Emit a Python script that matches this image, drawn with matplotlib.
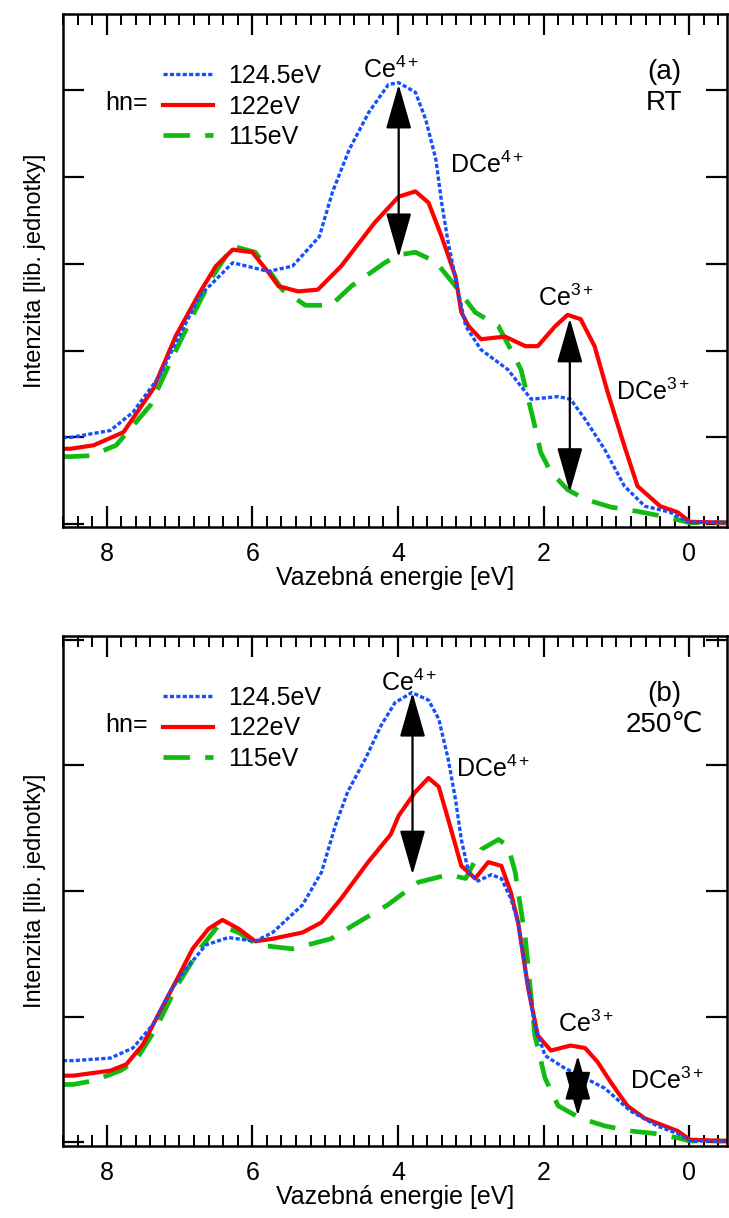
import matplotlib
matplotlib.use("Agg")
import matplotlib.pyplot as plt
from matplotlib.ticker import MultipleLocator

plt.rcParams['font.family'] = ['Liberation Sans', 'DejaVu Sans']
plt.rcParams['mathtext.fontset'] = 'custom'
plt.rcParams['mathtext.rm'] = 'Liberation Sans'
plt.rcParams['mathtext.it'] = 'Liberation Sans'
plt.rcParams['lines.scale_dashes'] = False

# ---- panel (a) RT ----
e_a_blue = [8.60, 8.50, 7.95, 7.64, 7.27, 7.05, 6.72, 6.27, 5.78, 5.45, 5.36, 5.08, 4.90, 4.67, 4.40,
            4.13, 3.99, 3.76, 3.62, 3.48, 3.40, 3.31, 3.17, 3.07, 2.86, 2.49, 2.17, 1.80, 1.63, 1.43,
            1.16, 0.89, 0.61, 0.26, 0.03, -0.52]
i_a_blue = [1.00, 1.00, 1.08, 1.29, 1.71, 2.09, 2.63, 3.01, 2.91, 2.97, 3.05, 3.31, 3.82, 4.31, 4.74,
            5.06, 5.08, 4.97, 4.66, 4.20, 3.70, 3.24, 2.67, 2.28, 2.01, 1.78, 1.44, 1.47, 1.44, 1.21,
            0.86, 0.44, 0.21, 0.14, 0.03, 0.02]
e_a_red = [8.60, 8.50, 8.18, 7.77, 7.36, 7.05, 6.72, 6.50, 6.27, 6.00, 5.78, 5.64, 5.37, 5.10, 4.78,
           4.32, 3.99, 3.76, 3.58, 3.40, 3.21, 3.13, 3.03, 2.86, 2.53, 2.25, 2.08, 1.84, 1.67, 1.49,
           1.30, 1.12, 0.89, 0.71, 0.40, 0.16, -0.01, -0.52]
i_a_red = [0.87, 0.87, 0.91, 1.06, 1.56, 2.17, 2.67, 2.97, 3.16, 3.13, 2.90, 2.74, 2.68, 2.70, 2.97,
           3.47, 3.77, 3.83, 3.70, 3.31, 2.85, 2.44, 2.28, 2.13, 2.16, 2.05, 2.05, 2.28, 2.41, 2.36,
           2.05, 1.52, 0.90, 0.44, 0.21, 0.14, 0.03, 0.02]
e_a_green = [8.60, 8.50, 8.22, 7.87, 7.40, 7.13, 6.82, 6.54, 6.27, 5.96, 5.72, 5.59, 5.27, 4.92, 4.64,
             4.18, 3.99, 3.76, 3.48, 3.21, 2.94, 2.62, 2.45, 2.31, 2.21, 2.12, 2.04, 1.90, 1.67, 1.43,
             1.08, 0.71, 0.34, -0.01, -0.52]
i_a_green = [0.78, 0.78, 0.79, 0.91, 1.37, 1.86, 2.40, 2.86, 3.20, 3.13, 2.86, 2.70, 2.52, 2.52, 2.74,
             3.01, 3.10, 3.13, 3.02, 2.74, 2.44, 2.28, 2.01, 1.78, 1.44, 1.13, 0.83, 0.60, 0.40, 0.29,
             0.20, 0.15, 0.09, 0.02, 0.02]

# ---- panel (b) 250 C ----
e_b_blue = [8.60, 8.46, 7.95, 7.64, 7.36, 7.13, 6.91, 6.64, 6.33, 5.96, 5.72, 5.31, 5.05, 4.86, 4.69,
            4.45, 4.23, 4.04, 3.81, 3.58, 3.44, 3.31, 3.21, 3.13, 3.03, 2.90, 2.72, 2.58, 2.45, 2.35,
            2.21, 2.12, 1.98, 1.71, 1.43, 1.16, 0.81, 0.44, 0.12, -0.01, -0.52]
i_b_blue = [0.65, 0.65, 0.67, 0.75, 0.94, 1.20, 1.38, 1.57, 1.63, 1.60, 1.67, 1.89, 2.15, 2.52, 2.79,
            3.05, 3.32, 3.50, 3.58, 3.52, 3.37, 3.05, 2.73, 2.41, 2.15, 2.08, 2.13, 2.10, 1.94, 1.75,
            1.22, 0.93, 0.69, 0.59, 0.51, 0.43, 0.25, 0.13, 0.06, 0.01, 0.01]
e_b_red = [8.60, 8.46, 7.95, 7.73, 7.50, 7.27, 7.05, 6.82, 6.60, 6.41, 6.19, 5.96, 5.72, 5.31, 5.05,
           4.78, 4.41, 4.10, 3.99, 3.76, 3.58, 3.44, 3.31, 3.13, 2.94, 2.76, 2.58, 2.45, 2.35, 2.21,
           2.08, 1.90, 1.63, 1.43, 1.26, 1.08, 0.85, 0.61, 0.34, 0.16, -0.01, -0.52]
i_b_red = [0.53, 0.53, 0.57, 0.62, 0.78, 1.04, 1.28, 1.54, 1.70, 1.77, 1.70, 1.60, 1.62, 1.67, 1.75,
           1.94, 2.23, 2.45, 2.60, 2.79, 2.90, 2.83, 2.57, 2.20, 2.10, 2.23, 2.20, 1.99, 1.75, 1.22,
           0.85, 0.73, 0.77, 0.75, 0.64, 0.48, 0.29, 0.19, 0.13, 0.09, 0.02, 0.01]
e_b_green = [8.60, 8.46, 8.18, 7.81, 7.60, 7.32, 7.05, 6.72, 6.46, 6.19, 5.92, 5.45, 4.92, 4.55, 4.14,
             3.72, 3.31, 3.07, 2.86, 2.62, 2.49, 2.39, 2.25, 2.12, 1.98, 1.80, 1.49, 1.16, 0.81, 0.48,
             0.12, -0.01, -0.52]
i_b_green = [0.46, 0.46, 0.49, 0.57, 0.65, 0.91, 1.23, 1.54, 1.73, 1.67, 1.57, 1.54, 1.62, 1.75, 1.89,
             2.07, 2.13, 2.10, 2.33, 2.41, 2.36, 2.15, 1.62, 0.85, 0.51, 0.29, 0.19, 0.13, 0.09, 0.07,
             0.03, 0.01, 0.01]

labels = ['124.5eV', '122eV', '115eV']

# arrows: x, y_top, y_bottom
arrows_a = [(3.99, 5.06, 3.07), (1.64, 2.37, 0.37)]
arrows_b = [(3.80, 3.58, 2.13), (1.53, 0.69, 0.21)]
# annotations: text, x, y
notes_a = [('Ce$^{4+}$', 4.09, 5.23), ('DCe$^{4+}$', 2.77, 4.14),
           ('Ce$^{3+}$', 1.69, 2.61), ('DCe$^{3+}$', 0.50, 1.53)]
notes_b = [('Ce$^{4+}$', 3.85, 3.66), ('DCe$^{4+}$', 2.69, 2.97),
           ('Ce$^{3+}$', 1.42, 0.94), ('DCe$^{3+}$', 0.30, 0.49)]

BLUE = '#1450ff'
RED = '#ff0000'
GREEN = '#11bb11'
FS = 18

fig = plt.figure(figsize=(7.29, 12.18), dpi=100)
ax_a = fig.add_axes([0.0864, 0.5673, 0.9110, 0.4212])
ax_b = fig.add_axes([0.0864, 0.0591, 0.9110, 0.4187])


def draw_panel(ax, eb, ib, er, ir, eg, ig, arrows, notes, tag, cond, ymax):
    lg, = ax.plot(eg, ig, color=GREEN, lw=3.4, dashes=(19, 11))
    lr, = ax.plot(er, ir, color=RED, lw=3.0)
    lb, = ax.plot(eb, ib, color=BLUE, lw=2.4, dashes=(3, 1.6))

    ax.set_xlim(8.6, -0.52)
    ax.set_ylim(-0.03, ymax)
    ax.xaxis.set_major_locator(MultipleLocator(2))
    ax.xaxis.set_minor_locator(MultipleLocator(0.2))
    ax.yaxis.set_major_locator(MultipleLocator(1))
    ax.tick_params(axis='x', which='major', direction='in', length=15, width=1.6,
                   top=True, labelsize=FS, pad=11)
    ax.tick_params(axis='x', which='minor', direction='in', length=8, width=1.4, top=True)
    ax.tick_params(axis='y', which='major', direction='in', length=15, width=1.6,
                   right=True, labelleft=False)
    for s in ax.spines.values():
        s.set_linewidth(1.8)

    ax.set_xlabel('Vazebná energie [eV]', fontsize=FS, labelpad=0)
    ax.set_ylabel('Intenzita [lib. jednotky]', fontsize=17, labelpad=12)

    for x, y0, y1 in arrows:
        ax.annotate('', xy=(x, y0), xytext=(x, y1),
                    arrowprops=dict(arrowstyle='<|-|>,head_length=1.4,head_width=0.4',
                                    mutation_scale=20, lw=1.6, color='black',
                                    shrinkA=0, shrinkB=0))
    for txt, x, y in notes:
        ax.text(x, y, txt, fontsize=FS, ha='center', va='center')

    ax.legend([lb, lr, lg], labels, loc='upper left', bbox_to_anchor=(0.135, 0.922),
              frameon=False, fontsize=FS, handlelength=2.0, handletextpad=0.6,
              labelspacing=0.26, borderaxespad=0)
    ax.text(0.063, 0.826, 'hn=', transform=ax.transAxes, fontsize=FS, va='center')
    ax.text(0.905, 0.887, tag, transform=ax.transAxes, fontsize=20, ha='center', va='center')
    ax.text(0.905, 0.826, cond, transform=ax.transAxes, fontsize=20, ha='center', va='center')


draw_panel(ax_a, e_a_blue, i_a_blue, e_a_red, i_a_red, e_a_green, i_a_green,
           arrows_a, notes_a, '(a)', 'RT', 5.87)
draw_panel(ax_b, e_b_blue, i_b_blue, e_b_red, i_b_red, e_b_green, i_b_green,
           arrows_b, notes_b, '(b)', '250℃', 4.03)

fig.savefig('out.png', dpi=100)
